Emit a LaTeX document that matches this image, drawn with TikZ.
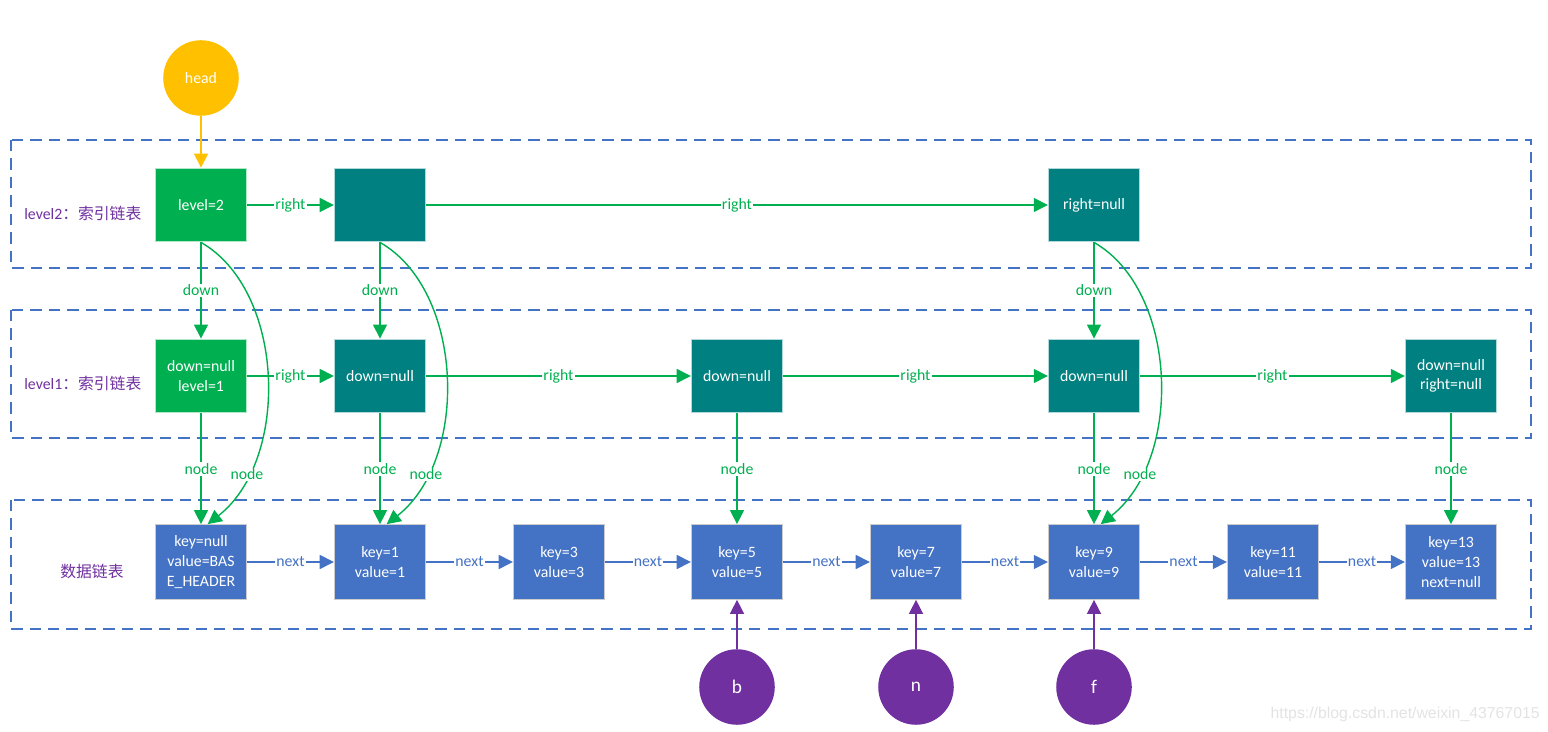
\documentclass[tikz,border=0pt]{standalone}
\usepackage{fontspec}
\setmainfont{Carlito}
\newfontfamily\cjk{Noto Sans CJK SC}
\newfontfamily\wmfont{Liberation Sans}
\usetikzlibrary{arrows.meta}
\definecolor{lgreen}{HTML}{00B050}
\definecolor{tealc}{HTML}{008080}
\definecolor{dblue}{HTML}{4472C4}
\definecolor{purp}{HTML}{7030A0}
\definecolor{gold}{HTML}{FFC000}
\tikzset{
  base/.style={font=\fontsize{9}{11.2}\selectfont},
  gbox/.style={base,rectangle,fill=lgreen,draw=lgreen!30,line width=0.6pt,text=white,align=center,minimum width=52pt,minimum height=42pt,inner sep=1pt},
  tbox/.style={gbox,fill=tealc,draw=tealc!30},
  dbox/.style={gbox,fill=dblue,draw=gray!40,minimum height=42.5pt},
  pcirc/.style={circle,fill=purp,text=white,minimum size=43pt,inner sep=0pt,font=\fontsize{11}{13}\selectfont},
  hcirc/.style={circle,fill=gold,text=white,minimum size=43pt,inner sep=0pt,base},
  frame/.style={draw=dblue,dash pattern=on 6.5pt off 4pt,line width=0.75pt},
  tip/.style={-{Triangle[length=8pt,width=8pt]}},
  garrow/.style={tip,draw=lgreen,line width=0.8pt},
  barrow/.style={tip,draw=dblue,line width=0.8pt},
  parrow/.style={tip,draw=purp,line width=0.8pt},
  yarrow/.style={tip,draw=gold,line width=0.8pt},
  glab/.style={base,fill=white,text=lgreen,inner sep=0.8pt},
  blab/.style={base,fill=white,text=dblue,inner sep=0.8pt},
  ttl/.style={base,text=purp,inner sep=0pt,anchor=west},
}
\begin{document}
\begin{tikzpicture}[x=0.02cm,y=-0.02cm]
\useasboundingbox (0,0) rectangle (1548,732);
% frames
\draw[frame] (11,140) rectangle (1531,268);
\draw[frame] (11,310) rectangle (1531,438);
\draw[frame] (11,500) rectangle (1531,629);
% titles
\node[ttl] (t2) at (24,213) {level2\cjk ：索引链表};
\node[ttl] (t1) at (24,383) {level1\cjk ：索引链表};
\node[ttl] (t0) at (60,571) {\cjk 数据链表};
% head
\node[hcirc] (head) at (201,78) {head};
% level 2
\node[gbox] (l2a) at (201,205) {level=2};
\node[tbox] (l2b) at (380,205) {};
\node[tbox] (l2c) at (1094,205) {right=null};
% level 1
\node[gbox] (l1a) at (201,376) {down=null\\level=1};
\node[tbox] (l1b) at (380,376) {down=null};
\node[tbox] (l1c) at (737,376) {down=null};
\node[tbox] (l1d) at (1094,376) {down=null};
\node[tbox] (l1e) at (1451,376) {down=null\\right=null};
% data
\node[dbox] (d0) at (201,562) {key=null\\value=BAS\\E\_HEADER};
\node[dbox] (d1) at (380,562) {key=1\\value=1};
\node[dbox] (d2) at (559,562) {key=3\\value=3};
\node[dbox] (d3) at (737,562) {key=5\\value=5};
\node[dbox] (d4) at (916,562) {key=7\\value=7};
\node[dbox] (d5) at (1094,562) {key=9\\value=9};
\node[dbox] (d6) at (1273,562) {key=11\\value=11};
\node[dbox] (d7) at (1451,562) {key=13\\value=13\\next=null};
% pointers
\node[pcirc] (b) at (737,687) {b};
\node[pcirc] (n) at (916,687) {n};
\node[pcirc] (f) at (1094,687) {f};
% head arrow
\draw[yarrow] (head) -- (l2a);
% level2 right
\draw[garrow] (l2a) -- node[glab]{right} (l2b);
\draw[garrow] (l2b) -- node[glab]{right} (l2c);
% level1 right
\draw[garrow] (l1a) -- node[glab]{right} (l1b);
\draw[garrow] (l1b) -- node[glab]{right} (l1c);
\draw[garrow] (l1c) -- node[glab]{right} (l1d);
\draw[garrow] (l1d) -- node[glab]{right} (l1e);
% down
\draw[garrow] (l2a) -- node[glab]{down} (l1a);
\draw[garrow] (l2b) -- node[glab]{down} (l1b);
\draw[garrow] (l2c) -- node[glab]{down} (l1d);
% node (straight)
\draw[garrow] (l1a) -- node[glab]{node} (d0);
\draw[garrow] (l1b) -- node[glab]{node} (d1);
\draw[garrow] (l1c) -- node[glab]{node} (d3);
\draw[garrow] (l1d) -- node[glab]{node} (d5);
\draw[garrow] (l1e) -- node[glab]{node} (d7);
% node (curved from level2)
\draw[garrow] (l2a.south) .. controls +(84,48) and +(83,-65) .. node[glab,pos=0.8]{node} (d0.80);
\draw[garrow] (l2b.south) .. controls +(84,48) and +(83,-65) .. node[glab,pos=0.8]{node} (d1.80);
\draw[garrow] (l2c.south) .. controls +(84,48) and +(83,-65) .. node[glab,pos=0.8]{node} (d5.80);
% next
\draw[barrow] (d0) -- node[blab]{next} (d1);
\draw[barrow] (d1) -- node[blab]{next} (d2);
\draw[barrow] (d2) -- node[blab]{next} (d3);
\draw[barrow] (d3) -- node[blab]{next} (d4);
\draw[barrow] (d4) -- node[blab]{next} (d5);
\draw[barrow] (d5) -- node[blab]{next} (d6);
\draw[barrow] (d6) -- node[blab]{next} (d7);
% pointers up
\draw[parrow] (b) -- (d3);
\draw[parrow] (n) -- (d4);
\draw[parrow] (f) -- (d5);
% watermark
\node[font=\wmfont\fontsize{9}{11}\selectfont,text=gray!22,anchor=east,inner sep=0pt] (wm) at (1540,714) {https://blog.csdn.net/weixin\_43767015};
\end{tikzpicture}
\end{document}
